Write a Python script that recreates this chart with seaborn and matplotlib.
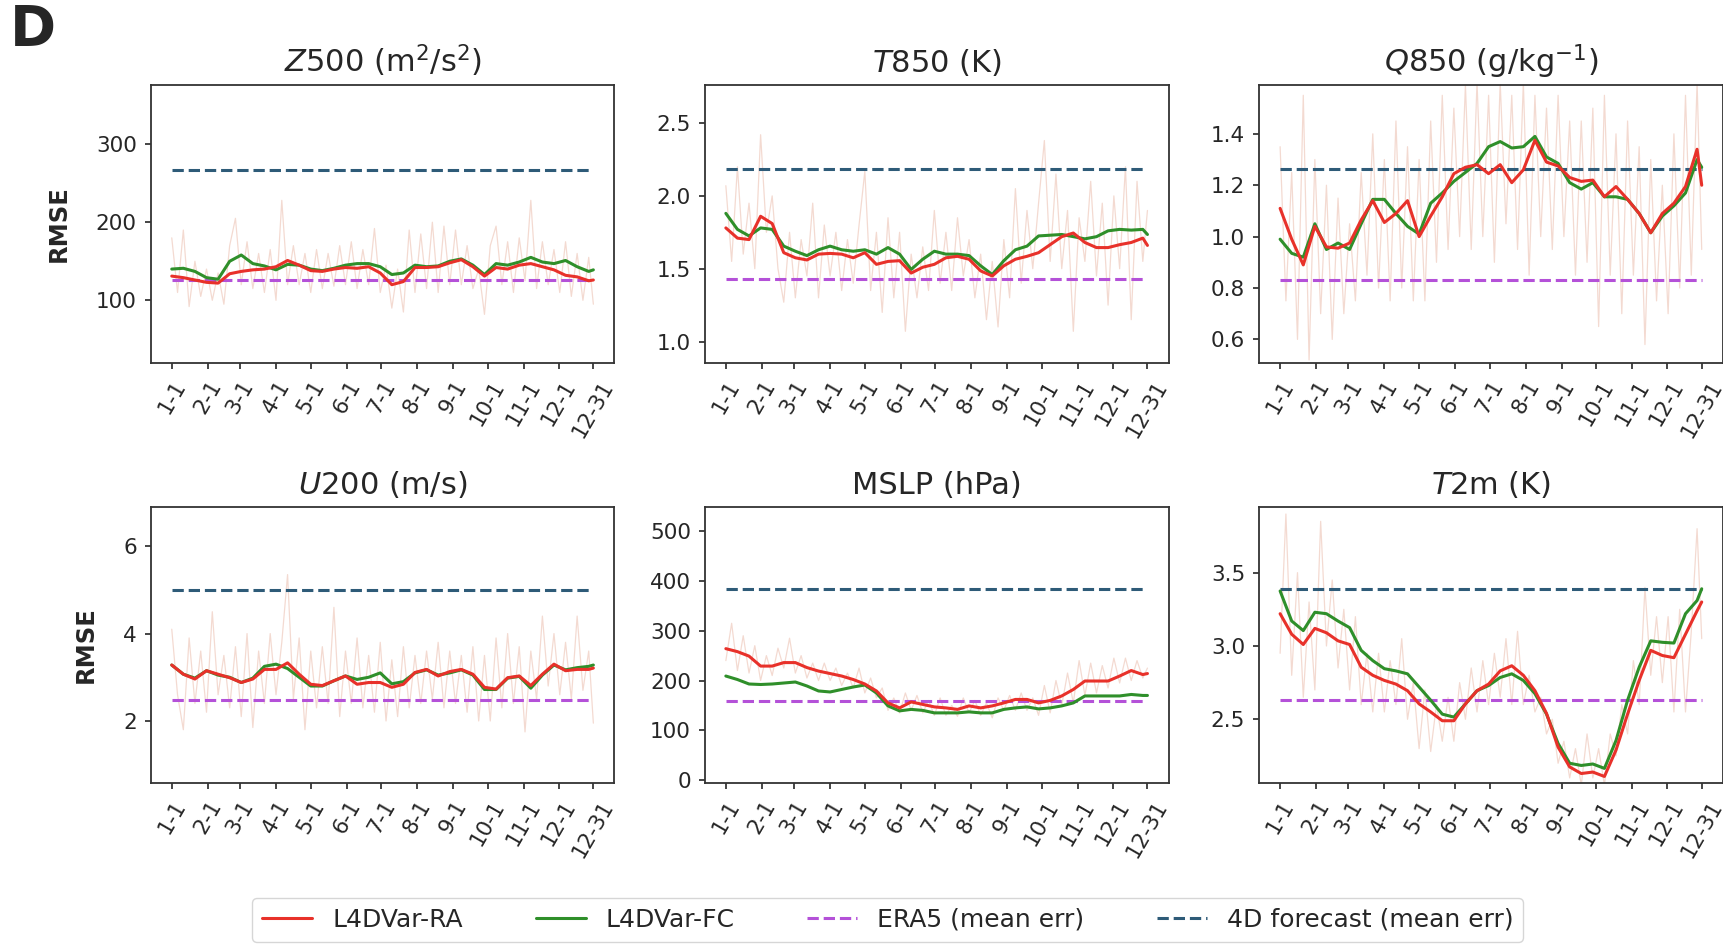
"""
Annual RMSE cycle of L4DVar reanalysis vs forecast for six variables (panel D).
Smoothed curves are read every 10 days, the faint daily trace every 5 days.
"""
import matplotlib
matplotlib.use("Agg")
import matplotlib.pyplot as plt
from matplotlib.lines import Line2D
import seaborn as sns

# --- x positions (day of year, 0 = 1 Jan) ---------------------------------
DAYS = list(range(0, 361, 10)) + [364]
RAW_DAYS = list(range(0, 361, 5)) + [364]
MONTH_TICKS = [0, 31, 59, 90, 120, 151, 181, 212, 243, 273, 304, 334, 364]
MONTH_LABELS = ["1-1", "2-1", "3-1", "4-1", "5-1", "6-1", "7-1", "8-1",
                "9-1", "10-1", "11-1", "12-1", "12-31"]

# --- Z500 --------------------------------------------------------------------
Z500_RA = [131, 129, 126, 123, 122, 134, 137, 139, 140, 143,
           151, 145, 138, 137, 140, 142, 141, 143, 135, 120,
           124, 142, 142, 143, 148, 152, 143, 131, 142, 140,
           145, 147, 143, 139, 132, 130, 125, 126]
Z500_FC = [140, 141, 137, 129, 127, 150, 158, 147, 144, 139,
           146, 145, 140, 138, 141, 145, 147, 147, 143, 133,
           135, 145, 143, 144, 150, 153, 145, 133, 147, 145,
           149, 155, 149, 147, 151, 143, 137, 139]
Z500_RAW = [180, 110, 190, 92, 150, 105, 140, 100, 135, 95,
            170, 205, 120, 175, 115, 160, 110, 165, 100, 228,
            120, 170, 120, 160, 110, 165, 115, 160, 118, 170,
            120, 175, 115, 165, 120, 192, 110, 145, 90, 140,
            85, 190, 110, 185, 115, 200, 110, 195, 120, 190,
            120, 170, 115, 140, 82, 170, 195, 120, 175, 110,
            180, 125, 228, 115, 175, 120, 165, 110, 175, 105,
            160, 100, 155, 95]
Z500_ERA5, Z500_4D = 126.5, 267.5

# --- T850 --------------------------------------------------------------------
T850_RA = [1.78, 1.71, 1.70, 1.86, 1.81, 1.61, 1.575, 1.56, 1.60, 1.605,
           1.60, 1.575, 1.61, 1.53, 1.55, 1.555, 1.47, 1.51, 1.53, 1.575,
           1.585, 1.565, 1.485, 1.45, 1.52, 1.565, 1.585, 1.61, 1.665, 1.72,
           1.745, 1.68, 1.645, 1.645, 1.665, 1.68, 1.71, 1.66]
T850_FC = [1.88, 1.77, 1.725, 1.78, 1.77, 1.655, 1.62, 1.59, 1.63, 1.655,
           1.63, 1.62, 1.63, 1.60, 1.645, 1.60, 1.495, 1.565, 1.62, 1.60,
           1.60, 1.59, 1.52, 1.46, 1.555, 1.63, 1.655, 1.725, 1.73, 1.735,
           1.72, 1.705, 1.72, 1.76, 1.77, 1.765, 1.77, 1.735]
T850_RAW = [2.07, 1.55, 2.2, 1.6, 1.95, 1.5, 2.42, 1.75, 2.0, 1.5,
            1.27, 1.75, 1.3, 1.7, 1.45, 1.95, 1.3, 1.8, 1.45, 1.75,
            1.35, 1.7, 1.4, 1.8, 2.17, 1.35, 1.75, 1.2, 1.85, 1.3,
            1.75, 1.07, 1.6, 1.3, 1.65, 1.35, 1.9, 1.4, 1.75, 1.35,
            1.85, 1.45, 1.7, 1.3, 1.6, 1.15, 1.55, 1.1, 1.7, 1.3,
            2.05, 1.4, 1.9, 1.5, 1.95, 2.38, 1.55, 2.15, 1.5, 1.9,
            1.07, 1.85, 1.55, 2.1, 1.45, 1.95, 1.25, 2.0, 1.5, 2.2,
            1.15, 2.1, 1.55, 1.9]
T850_ERA5, T850_4D = 1.427, 2.187

# --- Q850 --------------------------------------------------------------------
Q850_RA = [1.11, 0.99, 0.89, 1.04, 0.96, 0.955, 0.975, 1.065, 1.14, 1.055,
           1.09, 1.14, 1.0, 1.08, 1.155, 1.245, 1.27, 1.28, 1.245, 1.28,
           1.21, 1.26, 1.375, 1.29, 1.275, 1.23, 1.215, 1.22, 1.155, 1.195,
           1.145, 1.09, 1.015, 1.09, 1.13, 1.195, 1.34, 1.20]
Q850_FC = [0.99, 0.935, 0.92, 1.05, 0.95, 0.975, 0.95, 1.05, 1.145, 1.145,
           1.09, 1.04, 1.01, 1.13, 1.17, 1.215, 1.25, 1.285, 1.35, 1.37,
           1.345, 1.35, 1.39, 1.31, 1.285, 1.21, 1.185, 1.21, 1.155, 1.155,
           1.145, 1.09, 1.015, 1.08, 1.12, 1.17, 1.30, 1.27]
Q850_RAW = [1.35, 0.75, 1.25, 0.6, 1.55, 0.52, 1.3, 0.7, 1.2, 0.6,
            1.15, 0.7, 1.05, 0.75, 1.25, 0.85, 1.4, 0.8, 1.3, 0.75,
            1.45, 0.8, 1.35, 0.75, 1.3, 0.75, 1.45, 0.9, 1.55, 0.95,
            1.5, 1.0, 1.59, 0.95, 1.6, 1.0, 1.55, 0.9, 1.6, 1.05,
            1.55, 0.95, 1.6, 0.85, 1.55, 1.0, 1.5, 0.95, 1.55, 1.0,
            1.45, 0.85, 1.45, 0.9, 1.5, 0.65, 1.55, 0.85, 1.4, 0.7,
            1.45, 0.85, 1.35, 0.58, 1.3, 0.75, 1.2, 0.7, 1.4, 0.8,
            1.55, 0.85, 1.6, 0.95]
Q850_ERA5, Q850_4D = 0.832, 1.265

# --- U200 --------------------------------------------------------------------
U200_RA = [3.28, 3.07, 2.96, 3.15, 3.07, 2.99, 2.88, 2.96, 3.18, 3.18,
           3.33, 3.07, 2.84, 2.81, 2.92, 3.03, 2.84, 2.88, 2.88, 2.77,
           2.84, 3.11, 3.18, 3.03, 3.13, 3.18, 3.07, 2.77, 2.73, 2.99,
           3.03, 2.81, 3.07, 3.30, 3.15, 3.18, 3.18, 3.21]
U200_FC = [3.28, 3.07, 2.98, 3.15, 3.05, 3.0, 2.88, 2.98, 3.25, 3.3,
           3.2, 3.0, 2.8, 2.8, 2.92, 3.03, 2.95, 3.0, 3.1, 2.85,
           2.9, 3.1, 3.17, 3.05, 3.1, 3.17, 3.05, 2.72, 2.72, 2.98,
           3.02, 2.75, 3.05, 3.28, 3.17, 3.22, 3.25, 3.28]
U200_RAW = [4.1, 2.6, 1.8, 3.9, 2.4, 3.6, 2.2, 4.5, 2.6, 3.5,
            2.3, 3.7, 2.1, 4.0, 1.85, 3.6, 2.4, 4.0, 2.6, 3.8,
            5.35, 2.5, 3.9, 1.8, 3.6, 2.3, 3.7, 2.4, 4.6, 2.1,
            3.6, 2.4, 3.9, 2.3, 3.5, 2.2, 3.8, 2.0, 3.4, 2.1,
            3.7, 2.3, 3.5, 2.4, 3.6, 2.5, 3.8, 2.3, 3.6, 2.4,
            3.5, 2.2, 3.7, 2.0, 3.5, 2.0, 3.9, 2.3, 4.0, 2.4,
            3.7, 1.75, 3.6, 2.5, 4.4, 2.8, 4.0, 2.6, 3.8, 2.5,
            4.4, 2.7, 3.6, 1.95]
U200_ERA5, U200_4D = 2.48, 5.0

# --- MSLP --------------------------------------------------------------------
MSLP_RA = [264, 258, 249, 229, 229, 236, 236, 226, 219, 214,
           209, 202, 193, 179, 155, 145, 157, 152, 147, 145,
           142, 149, 145, 149, 155, 162, 162, 155, 160, 169,
           182, 199, 199, 199, 209, 220, 212, 214]
MSLP_FC = [209, 202, 193, 192, 193, 195, 197, 189, 179, 177,
           182, 187, 191, 175, 149, 139, 142, 140, 135, 135,
           135, 137, 135, 135, 142, 145, 147, 143, 145, 149,
           155, 169, 169, 169, 169, 172, 170, 170]
MSLP_RAW = [240, 315, 220, 290, 215, 270, 200, 250, 210, 265,
            225, 285, 215, 250, 205, 235, 200, 235, 200, 225,
            190, 215, 185, 225, 175, 205, 165, 185, 140, 165,
            135, 175, 140, 170, 135, 160, 130, 165, 130, 150,
            128, 165, 135, 160, 130, 155, 125, 165, 140, 170,
            140, 175, 140, 165, 130, 190, 135, 200, 150, 215,
            155, 240, 170, 235, 175, 230, 185, 245, 195, 245,
            200, 240, 205, 225]
MSLP_ERA5, MSLP_4D = 159.8, 383.3

# --- T2m ---------------------------------------------------------------------
T2M_RA = [3.22, 3.08, 3.01, 3.12, 3.09, 3.035, 3.01, 2.855, 2.80, 2.765,
          2.74, 2.695, 2.605, 2.55, 2.49, 2.49, 2.605, 2.695, 2.74, 2.83,
          2.865, 2.80, 2.695, 2.54, 2.31, 2.175, 2.13, 2.14, 2.11, 2.29,
          2.535, 2.765, 2.97, 2.935, 2.92, 3.08, 3.24, 3.30]
T2M_FC = [3.375, 3.17, 3.105, 3.23, 3.22, 3.17, 3.125, 2.97, 2.90, 2.845,
          2.83, 2.81, 2.72, 2.63, 2.535, 2.515, 2.605, 2.695, 2.73, 2.785,
          2.81, 2.765, 2.675, 2.535, 2.335, 2.20, 2.185, 2.195, 2.165, 2.355,
          2.63, 2.855, 3.035, 3.025, 3.02, 3.22, 3.31, 3.39]
T2M_RAW = [2.95, 3.9, 2.8, 3.5, 2.65, 3.3, 2.7, 3.85, 3.0, 3.45,
           2.85, 3.25, 2.7, 3.2, 2.6, 2.95, 2.55, 2.95, 2.55, 2.9,
           2.6, 3.05, 2.5, 2.75, 2.3, 2.7, 2.28, 2.6, 2.35, 2.65,
           2.35, 2.75, 2.5, 2.85, 2.55, 2.9, 2.6, 2.95, 2.65, 3.05,
           2.6, 3.1, 2.6, 2.8, 2.55, 2.65, 2.4, 2.5, 2.2, 2.35,
           2.1, 2.3, 2.05, 2.4, 2.1, 2.3, 2.05, 2.4, 2.25, 2.6,
           2.4, 2.9, 2.6, 3.4, 2.8, 3.2, 2.75, 3.2, 2.55, 3.25,
           2.55, 3.1, 3.8, 3.05]
T2M_ERA5, T2M_4D = 2.633, 3.389

PANELS = [
    (r"$Z$500 (m$^2$/s$^2$)", Z500_RA, Z500_FC, Z500_RAW, Z500_ERA5, Z500_4D,
     [100, 200, 300], (20, 376)),
    (r"$T$850 (K)", T850_RA, T850_FC, T850_RAW, T850_ERA5, T850_4D,
     [1.0, 1.5, 2.0, 2.5], (0.854, 2.763)),
    (r"$Q$850 (g/kg$^{-1}$)", Q850_RA, Q850_FC, Q850_RAW, Q850_ERA5, Q850_4D,
     [0.6, 0.8, 1.0, 1.2, 1.4], (0.509, 1.591)),
    (r"$U$200 (m/s)", U200_RA, U200_FC, U200_RAW, U200_ERA5, U200_4D,
     [2, 4, 6], (0.586, 6.9)),
    ("MSLP (hPa)", MSLP_RA, MSLP_FC, MSLP_RAW, MSLP_ERA5, MSLP_4D,
     [0, 100, 200, 300, 400, 500], (-5.4, 548.9)),
    (r"$T$2m (K)", T2M_RA, T2M_FC, T2M_RAW, T2M_ERA5, T2M_4D,
     [2.5, 3.0, 3.5], (2.067, 3.949)),
]

RED = "#e8312a"
GREEN = "#2f8f2a"
PURPLE = "#b451d8"
NAVY = "#2e5b78"
RAW = "#e9b6a4"

sns.set_theme(style="ticks")
plt.rcParams["font.family"] = ["DejaVu Sans"]
plt.rcParams["mathtext.fontset"] = "dejavusans"


def draw_panel(ax, title, ra, fc, raw, era5, fc4d, yticks, ylim):
    sns.lineplot(x=RAW_DAYS, y=raw, ax=ax, color=RAW, lw=0.9, alpha=0.5,
                 estimator=None)
    ax.hlines(fc4d, DAYS[0], DAYS[-1], colors=NAVY, linestyles="--", lw=2.2)
    ax.hlines(era5, DAYS[0], DAYS[-1], colors=PURPLE, linestyles="--", lw=2.2)
    sns.lineplot(x=DAYS, y=fc, ax=ax, color=GREEN, lw=2.2, estimator=None)
    sns.lineplot(x=DAYS, y=ra, ax=ax, color=RED, lw=2.2, estimator=None)
    ax.set_xticks(MONTH_TICKS)
    ax.set_xticklabels(MONTH_LABELS, rotation=60, ha="center")
    ax.set_yticks(yticks)
    ax.set_ylim(*ylim)
    ax.set_title(title, fontsize=22, pad=9)
    ax.tick_params(labelsize=15.5, length=4, width=1.2, pad=6)
    for s in ax.spines.values():
        s.set_linewidth(1.3)
        s.set_color("0.2")
    ax.set_xlabel("")
    ax.set_ylabel("")


fig = plt.figure(figsize=(17.24, 9.44), dpi=100)
lefts = [0.0874, 0.4088, 0.7303]
bottoms = [0.6157, 0.1708]
heights = [0.2945, 0.2923]
for i, spec in enumerate(PANELS):
    r, c = divmod(i, 3)
    ax = fig.add_axes([lefts[c], bottoms[r], 0.269, heights[r]])
    draw_panel(ax, *spec)
    if c == 0:
        ax.set_ylabel("RMSE", fontsize=17.5, fontweight="bold", labelpad=18)

fig.text(0.006, 0.968, "D", fontsize=40, fontweight="bold", va="center")

handles = [
    Line2D([], [], color=RED, lw=2.2),
    Line2D([], [], color=GREEN, lw=2.2),
    Line2D([], [], color=PURPLE, lw=2.2, ls="--"),
    Line2D([], [], color=NAVY, lw=2.2, ls="--"),
]
labels = ["L4DVar-RA", "L4DVar-FC", "ERA5 (mean err)", "4D forecast (mean err)"]
fig.legend(handles, labels, loc="lower center", bbox_to_anchor=(0.515, -0.011),
           ncol=4, fontsize=18, frameon=True, columnspacing=2.9)

fig.savefig("out.png", dpi=100)
